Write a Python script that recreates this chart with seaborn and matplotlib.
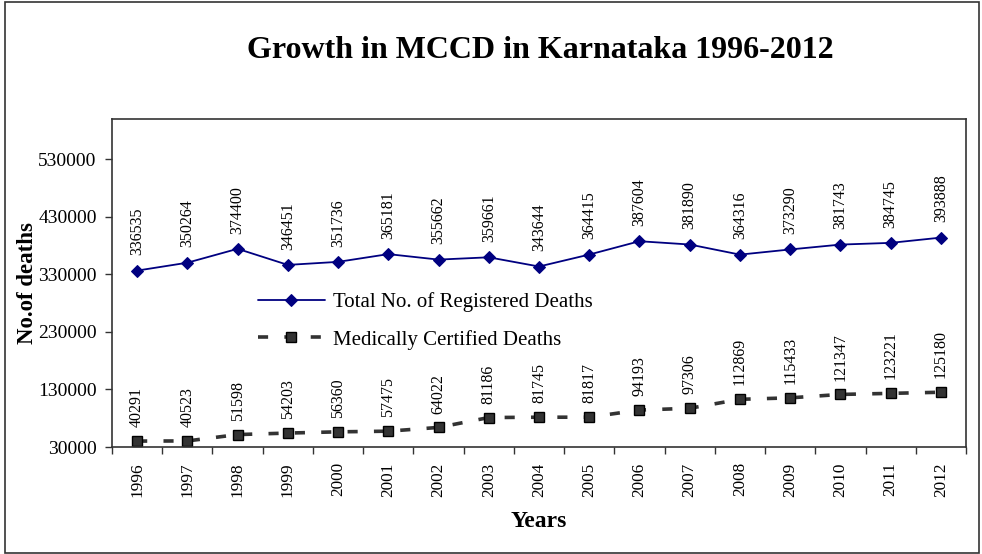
import matplotlib
matplotlib.use("Agg")
import matplotlib.pyplot as plt
import seaborn as sns
import pandas as pd
from matplotlib.patches import Rectangle
from matplotlib.ticker import FixedLocator

years = [1996, 1997, 1998, 1999, 2000, 2001, 2002, 2003, 2004, 2005,
         2006, 2007, 2008, 2009, 2010, 2011, 2012]
total_registered = [336535, 350264, 374400, 346451, 351736, 365181, 355662, 359661,
                    343644, 364415, 387604, 381890, 364316, 373290, 381743, 384745, 393888]
medically_certified = [40291, 40523, 51598, 54203, 56360, 57475, 64022, 81186,
                       81745, 81817, 94193, 97306, 112869, 115433, 121347, 123221, 125180]
y_ticks = [30000, 130000, 230000, 330000, 430000, 530000]

title = "Growth in MCCD in Karnataka 1996-2012"
label_total = "Total No. of Registered Deaths"
label_med = "Medically Certified Deaths"

sns.set_style("white")
plt.rcParams['font.family'] = ['Liberation Serif', 'DejaVu Serif']
plt.rcParams['text.color'] = 'black'
plt.rcParams['axes.labelcolor'] = 'black'
plt.rcParams['xtick.labelcolor'] = 'black'
plt.rcParams['ytick.labelcolor'] = 'black'

df = pd.DataFrame({"Year": years, "Total": total_registered, "Medical": medically_certified})

fig = plt.figure(figsize=(9.82, 5.54), dpi=100)
ax = fig.add_axes([112/982, (554-447)/554, (966-112)/982, (447-119)/554])

sns.lineplot(data=df, x="Year", y="Total", ax=ax, color="#000080", lw=1.3,
             marker="D", markersize=6.5, markeredgecolor="#000080",
             markerfacecolor="#000080", label=label_total)
sns.lineplot(data=df, x="Year", y="Medical", ax=ax, color="#333333", lw=2.6,
             marker="s", markersize=7, markerfacecolor="#333333",
             markeredgecolor="#000000", markeredgewidth=1.0,
             label=label_med)
ax.lines[1].set_dashes([2.8, 4.5])

for x, v in zip(years, total_registered):
    ax.annotate(str(v), (x, v), xytext=(0, 11), textcoords="offset points",
                rotation=90, ha="center", va="bottom", fontsize=11.5, color="black")
for x, v in zip(years, medically_certified):
    ax.annotate(str(v), (x, v), xytext=(0, 10), textcoords="offset points",
                rotation=90, ha="center", va="bottom", fontsize=11.5, color="black")

ax.set_xlim(years[0] - 0.5, years[-1] + 0.5)
ax.set_ylim(30000, 600000)
ax.set_xticks(years)
ax.set_xticklabels([str(y) for y in years], rotation=90, fontsize=12.4)
ax.xaxis.set_minor_locator(FixedLocator([y - 0.5 for y in years] + [years[-1] + 0.5]))
ax.tick_params(axis="x", which="major", length=0, pad=11)
ax.tick_params(axis="x", which="minor", length=5, width=1, color="#333333", direction="out", bottom=True)
ax.set_yticks(y_ticks)
ax.set_yticklabels([str(t) for t in y_ticks], fontsize=14)
ax.tick_params(axis="y", which="major", length=5, width=1, color="#333333", direction="out", left=True, pad=6)

for s in ax.spines.values():
    s.set_color("#333333")
    s.set_linewidth(1.2)

ax.set_xlabel("Years", fontsize=17, fontweight="bold", labelpad=10)
ax.set_ylabel("No.of deaths", fontsize=16.5, fontweight="bold", labelpad=0)

leg = ax.legend(loc="upper left", bbox_to_anchor=(0.171, 0.472), frameon=False,
                fontsize=15, handlelength=3.2, handletextpad=0.4, labelspacing=0.85,
                borderaxespad=0, borderpad=0)

fig.text(0.55, 0.908, title, ha="center", va="center", fontsize=23, fontweight="bold")

fig.patches.append(Rectangle((5/982, 1/554), 974/982, 551/554, transform=fig.transFigure,
                             fill=False, edgecolor="#333333", lw=1.2))

fig.savefig("out.png", dpi=100)
